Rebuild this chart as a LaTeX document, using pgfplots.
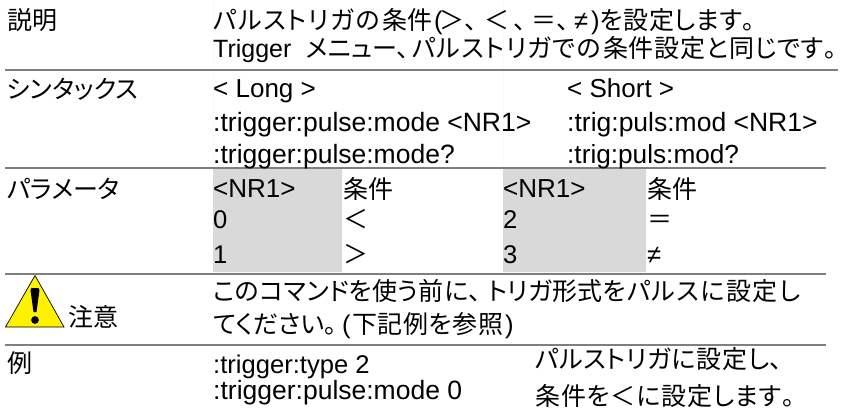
\documentclass[border=0pt]{standalone}
\usepackage{pgfplots}
\pgfplotsset{compat=1.18}
\usepackage{fontspec}
\setmainfont{Liberation Sans}
\newfontfamily\cjkp[RawFeature=+palt]{Noto Sans CJK JP}
\newcommand\LL{\fontsize{25.6bp}{30bp}\selectfont}
\newcommand\LS[1]{\fontsize{#1bp}{30bp}\selectfont\ignorespaces}
\newcommand\JJ{\fontsize{25bp}{30bp}\selectfont\cjkp}
\definecolor{rule}{HTML}{7F7F7F}
\definecolor{shade}{HTML}{D9D9D9}
\def\SP#1#2\end{#1\ifx\relax#2\relax\else\hfil\SP#2\end\fi}
\def\T(#1,#2)#3{\node[anchor=base west,inner sep=0pt,text depth=0pt] at (axis cs:#1,#2) {#3};}
% Japanese run set to a given width
\def\JW(#1,#2,#3)#4{\node[anchor=base west,inner sep=0pt,text depth=0pt] at (axis cs:#1,#2) {\JJ\makebox[#3bp][s]{\SP#4\end}};}
\begin{document}
\begin{tikzpicture}[x=1bp,y=1bp]
\useasboundingbox (0,0) rectangle (841,409);
\begin{axis}[at={(0,0)},anchor=south west,scale only axis,width=841bp,height=409bp,
  xmin=0,xmax=841,ymin=0,ymax=409,y dir=reverse,hide axis,clip=false]
\addplot[draw=none,fill=shade] coordinates {(213,169) (342,169) (342,272) (213,272)} \closedcycle;
\addplot[draw=none,fill=shade] coordinates {(503,169) (646,169) (646,272) (503,272)} \closedcycle;
\addplot[rule,line width=2bp] coordinates {(5,70) (838,70)};
\addplot[rule,line width=2bp] coordinates {(5,168) (826,168)};
\addplot[rule,line width=2bp] coordinates {(5,274) (826,274)};
\addplot[rule,line width=2bp] coordinates {(5,345) (826,345)};
\addplot[fill=yellow,draw=black,line width=0.7bp] coordinates {(35,275.5) (5.5,327) (64,327) (35,275.5)};
\addplot[fill=black,draw=none] coordinates {(30.5,290) (31.5,288) (38.5,288) (39.5,290) (36.5,312) (33.5,312) (30.5,290)};
\addplot[only marks,mark=*,mark size=3.6bp,black] coordinates {(35,320)};
\T(7,30){\JJ 説明}
\T(7,98){\JJ シンタックス}
\T(7,198){\JJ パラメータ}
\T(68,326){\JJ 注意}
\T(7,372){\JJ 例}
\JW(213,30,167){パルストリガの}
\T(382,30){\JJ 条件}
\T(434,30){\LL (}
\T(439,30){\JJ ＞}
\T(465,30){\JJ 、}
\T(484,30){\JJ ＜}
\T(514,30){\JJ 、}
\T(531,30){\JJ ＝}
\T(557,30){\JJ 、}
\T(574,30){\LL ≠}
\T(591,30){\LL )}
\JW(600,30,155){を設定します。}
\T(213,57){\LS{25} Trigger}
\JW(306,57,100){メニュー、}
\JW(412,57,189){パルストリガでの}
\JW(603,57,234){条件設定と同じです。}
\T(213,97){\LS{26} < Long >}
\T(567,97){\LS{26} < Short >}
\T(213,131){\LS{26.5} :trigger:pulse:mode <NR1>}
\T(567,131){\LS{26.5} :trig:puls:mod <NR1>}
\T(213,163){\LS{26.5} :trigger:pulse:mode?}
\T(567,163){\LS{26.2} :trig:puls:mod?}
\T(213,197){\LS{26} <NR1>}
\T(343,198){\JJ 条件}
\T(503,197){\LS{26} <NR1>}
\T(647,198){\JJ 条件}
\T(213,228){\LL 0}
\T(213,263){\LL 1}
\T(503,228){\LL 2}
\T(503,263){\LL 3}
\T(343,228){\JJ ＜}
\T(343,263){\JJ ＞}
\T(647,228){\JJ ＝}
\T(647,263){\LL ≠}
\JW(213,300,268){このコマンドを使う前に、}
\JW(488,300,138){トリガ形式を}
\JW(627,300,173){パルスに設定し}
\JW(213,333,120){てください。}
\T(342,333){\LL (}
\JW(352,333,151){下記例を参照}
\T(505,333){\LL )}
\T(213,373.5){\LL :trigger:type 2}
\T(213,399.5){\LS{26.5} :trigger:pulse:mode 0}
\JW(535,368.5,247){パルストリガに設定し、}
\JW(535,405,260){条件を＜に設定します。}
\end{axis}
\end{tikzpicture}
\end{document}
